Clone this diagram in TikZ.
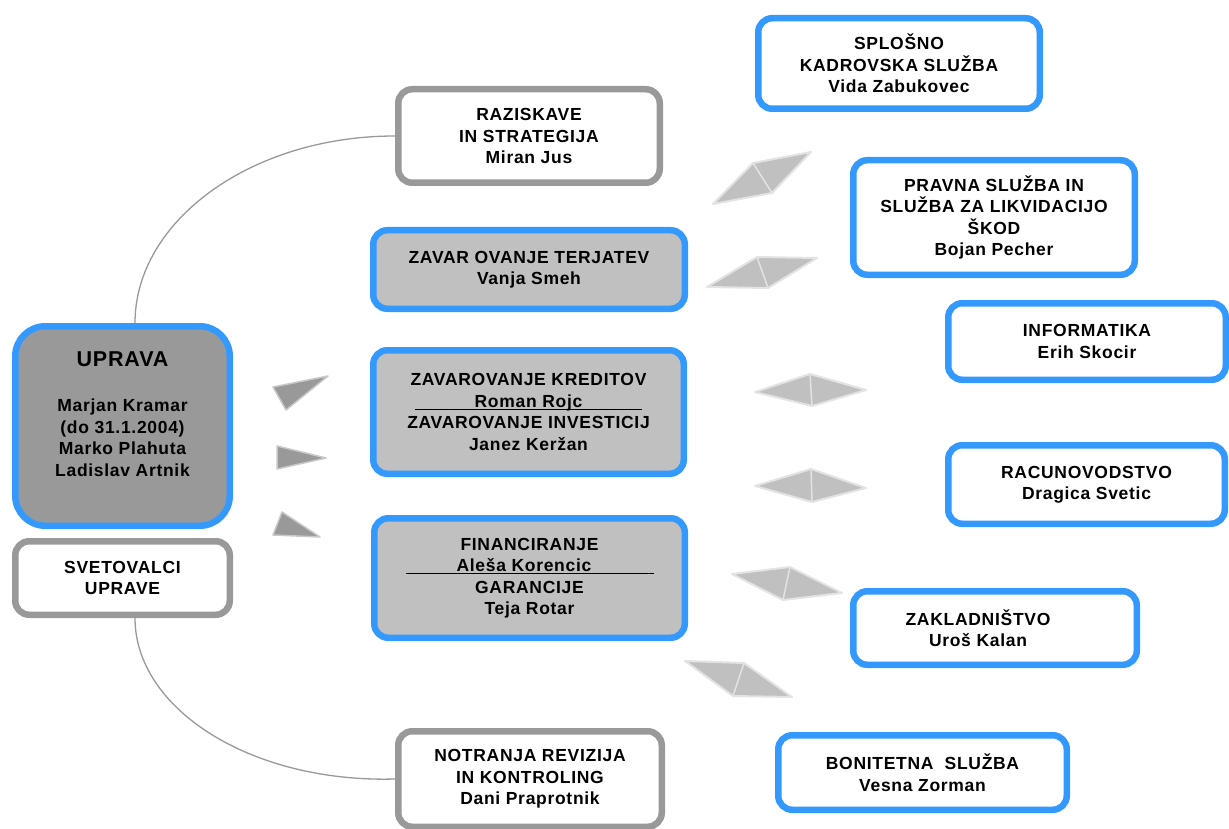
\documentclass[tikz,border=0pt]{standalone}
\usepackage{fontspec}
\setmainfont{Liberation Sans}
\newfontfamily\lbl[LetterSpace=4]{Liberation Sans}
\definecolor{bblue}{HTML}{3399FF}
\definecolor{bgray}{HTML}{999999}
\definecolor{fgray}{HTML}{C0C0C0}
\definecolor{dgray}{HTML}{999999}
\definecolor{triedge}{HTML}{C8C8C8}
\definecolor{diaedge}{HTML}{E3E3E3}
\tikzset{
  box/.style={draw, line width=6.5pt, rounded corners=14pt, align=center, inner sep=0pt,
    font=\lbl\bfseries\fontsize{17.5}{21.5}\selectfont},
  bluebox/.style={box, draw=bblue, fill=white},
  graybox/.style={box, draw=bgray, fill=white},
  fillbox/.style={box, draw=bblue, fill=fgray},
  txt/.style={align=center, inner sep=0pt, font=\lbl\bfseries\fontsize{17.5}{21.5}\selectfont},
  tri/.style={fill=dgray, draw=triedge, line width=1.5pt, line join=round},
  dia/.style={fill=fgray, draw=diaedge, line width=2pt, line join=round},
  divider/.style={draw=diaedge, line width=1.5pt},
  arcline/.style={draw=bgray, line width=1.3pt}
}
\begin{document}
\begin{tikzpicture}[x=1pt,y=-1pt]
\useasboundingbox (0,0) rectangle (1229,829);
\fill[white] (0,0) rectangle (1229,829);

\node[graybox, minimum width=261.5pt, minimum height=93.5pt] (rs) at (529,136)
  {RAZISKAVE\\IN STRATEGIJA\\Miran Jus};
\node[box, draw=bblue, fill=dgray, rounded corners=30pt, minimum width=214.5pt, minimum height=199.5pt] (upr) at (122.5,426) {};
\node[txt] (uprt) at (122.5,414) {{\fontsize{21.5}{24}\selectfont UPRAVA}\\[24pt]Marjan Kramar\\(do 31.1.2004)\\Marko Plahuta\\Ladislav Artnik};
\node[graybox, minimum width=214.5pt, minimum height=73.5pt] (sv) at (122.5,578)
  {SVETOVALCI\\UPRAVE};
\node[graybox, minimum width=263.5pt, minimum height=95.5pt] (nr) at (530,779)
  {NOTRANJA REVIZIJA\\IN KONTROLING\\Dani Praprotnik};

\draw[arcline] (rs.west) .. controls (251,136) and (135,221) .. ([xshift=12.5pt]upr.north);
\draw[arcline] ([xshift=12.5pt]sv.south) .. controls (135,709) and (251,783) .. (nr.west);

% central boxes
\node[fillbox, minimum width=311.5pt, minimum height=78.5pt] (zt) at (529,269.5)
  {ZAVAR OVANJE TERJATEV\\Vanja Smeh};
\node[fillbox, minimum width=310.5pt, minimum height=123.5pt] (zk) at (528.5,412)
  {ZAVAROVANJE KREDITOV\\\makebox[0pt][l]{\rule[-2.5pt]{227pt}{1.2pt}}\makebox[227pt]{Roman Rojc}\\ZAVAROVANJE INVESTICIJ\\Janez Keržan};
\node[fillbox, minimum width=310.5pt, minimum height=119.5pt] (fin) at (529.5,578)
  {FINANCIRANJE\\\makebox[0pt][l]{\rule[-2.5pt]{248pt}{1.2pt}}\makebox[248pt][l]{\hspace{51pt}Aleša Korencic}\\GARANCIJE\\Teja Rotar};

% right boxes
\node[bluebox, minimum width=281.5pt, minimum height=90.5pt] (sk) at (899,63.5)
  {SPLOŠNO\\KADROVSKA SLUŽBA\\Vida Zabukovec};
\node[bluebox, minimum width=281.5pt, minimum height=114.5pt] (pr) at (994,217.5)
  {PRAVNA SLUŽBA IN\\SLUŽBA ZA LIKVIDACIJO\\ŠKOD\\Bojan Pecher};
\node[bluebox, minimum width=277.5pt, minimum height=76.5pt] (inf) at (1087,341.5)
  {INFORMATIKA\\Erih Skocir};
\node[bluebox, minimum width=276.5pt, minimum height=78.5pt] (rac) at (1086.5,484.5)
  {RACUNOVODSTVO\\Dragica Svetic};
\node[bluebox, minimum width=283.5pt, minimum height=73.5pt] (zak) at (995,628) {};
\node[txt] (zakt) at (978,628) {ZAKLADNIŠTVO\\Uroš Kalan};
\node[bluebox, minimum width=288.5pt, minimum height=74.5pt] (bon) at (922.5,772.5)
  {BONITETNA\ \ SLUŽBA\\Vesna Zorman};

% triangles
\draw[tri] (273,387) -- (328,376) -- (286,410) -- cycle;
\draw[tri] (277,446) -- (326,458) -- (277,469) -- cycle;
\draw[tri] (282,512) -- (320,537) -- (273,535) -- cycle;

% diamonds
\draw[dia] (713,204) -- (753,163) -- (811,152) -- (772,193) -- cycle;
\draw[divider] (753,163) -- (772,193);
\draw[dia] (707,287) -- (757,257) -- (817,258) -- (768,288) -- cycle;
\draw[divider] (757,257) -- (768,288);
\draw[dia] (755,392) -- (810,374) -- (866,390) -- (812,406) -- cycle;
\draw[divider] (810,374) -- (812,406);
\draw[dia] (755,486) -- (811,469) -- (866,488) -- (812,502) -- cycle;
\draw[divider] (811,469) -- (812,502);
\draw[dia] (732,574) -- (790,567) -- (842,593) -- (783,600) -- cycle;
\draw[divider] (790,567) -- (783,600);
\draw[dia] (685,661) -- (744,663) -- (792,697) -- (733,696) -- cycle;
\draw[divider] (744,663) -- (733,696);
\end{tikzpicture}
\end{document}
